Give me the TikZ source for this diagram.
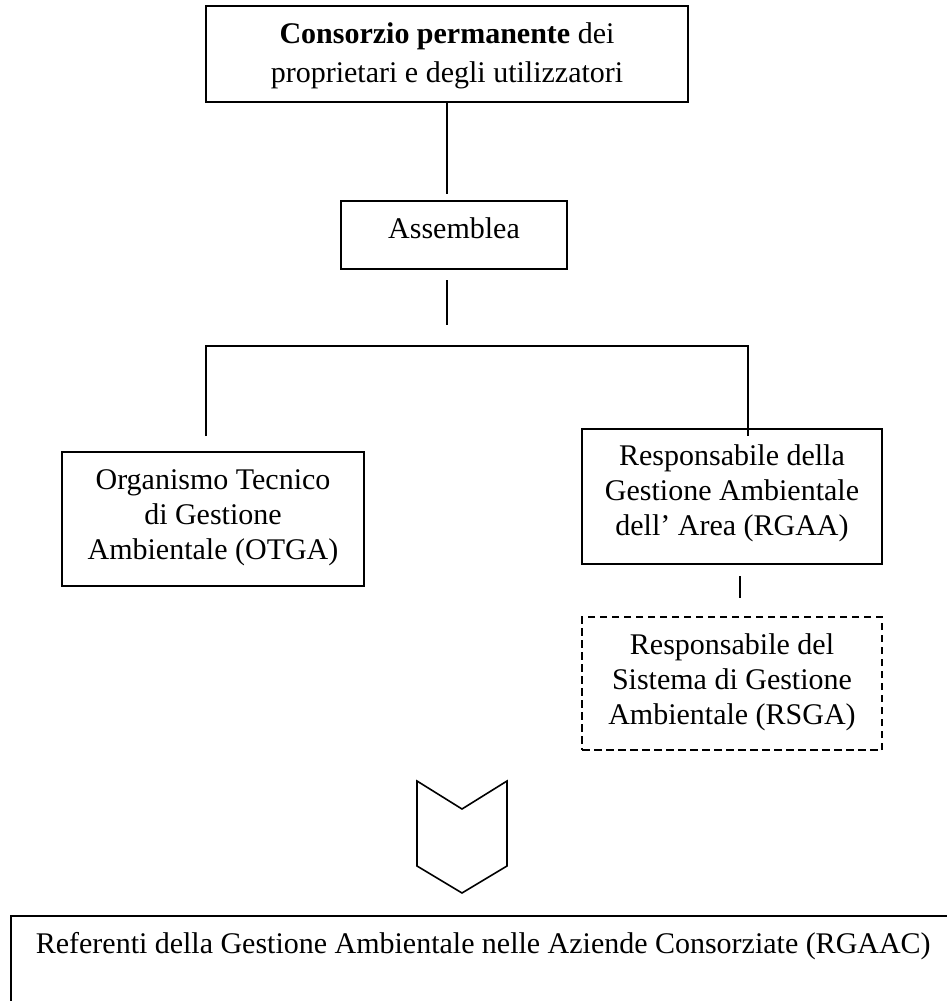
\documentclass[tikz,border=0pt]{standalone}
\usepackage{fontspec}
\setmainfont{Liberation Serif}
\newcommand\strutup{\rule{0pt}{24pt}}
\newcommand\strutdn[1]{\rule[-#1]{0pt}{#1}}
\tikzset{
  box/.style={draw, line width=1.6pt, inner sep=0pt, align=center,
    font=\fontsize{30}{35}\selectfont},
  dbox/.style={box, dash pattern=on 7.5pt off 4.5pt},
  conn/.style={line width=1.5pt},
}
\begin{document}
\begin{tikzpicture}[x=1pt, y=-1pt]
\useasboundingbox (0,0) rectangle (947,1001);

\node[box, minimum width=482pt, minimum height=96pt,
  font=\fontsize{30}{39}\selectfont] (top) at (447,54)
  {\strutup\textbf{Consorzio permanente} dei\\proprietari e degli utilizzatori\strutdn{7pt}};

\node[box, minimum width=226pt, minimum height=68pt] (asm) at (454,235)
  {\strutup Assemblea\strutdn{18pt}};

\node[box, minimum width=302pt, minimum height=134pt] (otga) at (213,519)
  {\strutup Organismo Tecnico\\di Gestione\\Ambientale (OTGA)\strutdn{14pt}};

\node[box, minimum width=300pt, minimum height=135pt] (rgaa) at (732,496.5)
  {\strutup Responsabile della\\Gestione Ambientale\\dell’ Area (RGAA)\strutdn{17pt}};

\node[dbox, minimum width=300pt, minimum height=133pt] (rsga) at (732,683.5)
  {\strutup Responsabile del\\Sistema di Gestione\\Ambientale (RSGA)\strutdn{13pt}};

\node[draw, line width=1.6pt, anchor=north west, inner xsep=25pt, inner ysep=14pt,
  text width=930pt, align=left, font=\fontsize{30}{35}\selectfont] (rgaac) at (10,915)
  {\spaceskip=7.4pt\strutup Referenti della Gestione Ambientale nelle Aziende Consorziate (RGAAC)\strutdn{80pt}};

% connectors
\coordinate (a1) at (447,194);
\draw[conn] (top.south) -- (a1);
\coordinate (a2) at (447,280);
\coordinate (a3) at (447,325);
\draw[conn] (a2) -- (a3);
\coordinate (hl) at (206,346);
\coordinate (hr) at (748,346);
\coordinate (l1) at (206,436);
\coordinate (r1) at (748,436);
\draw[conn] (l1) -- (hl) -- (hr) -- (r1);
\coordinate (s1) at (740,576);
\coordinate (s2) at (740,598);
\draw[conn] (s1) -- (s2);

% chevron
\coordinate (c1) at (417,781);
\coordinate (c2) at (462,809);
\coordinate (c3) at (507,781);
\coordinate (c4) at (507,866);
\coordinate (c5) at (462,893);
\coordinate (c6) at (417,866);
\draw[line width=1.6pt, line join=miter] (c1) -- (c2) -- (c3) -- (c4) -- (c5) -- (c6) -- cycle;
\end{tikzpicture}
\end{document}
